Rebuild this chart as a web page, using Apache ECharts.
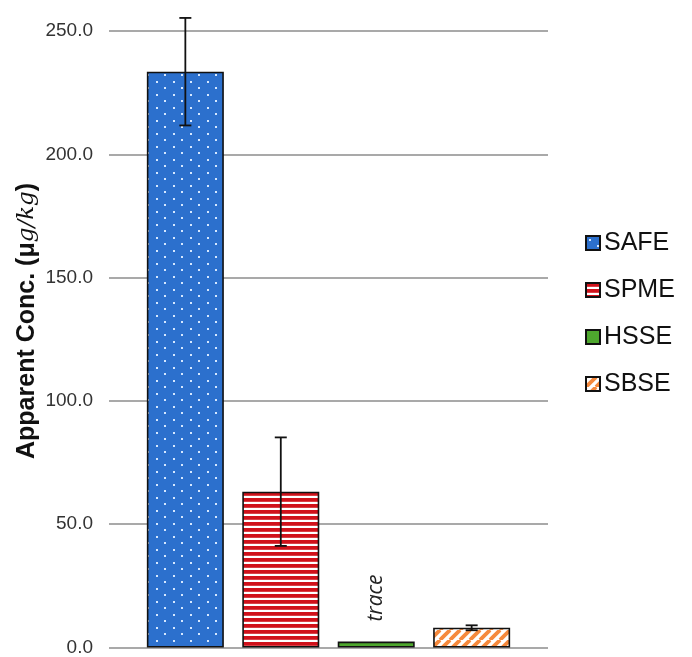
<!DOCTYPE html>
<html>
<head>
<meta charset="utf-8">
<script src="https://cdn.jsdelivr.net/npm/echarts@6/dist/echarts.min.js"></script>
<style>
  html, body { margin: 0; padding: 0; background: #fff; }
  #chart { width: 692px; height: 657px; }
</style>
</head>
<body>
<div id="chart"></div>
<script>
// Extraction methods and their apparent concentrations (µg/kg)
const methods = ['SAFE', 'SPME', 'HSSE', 'SBSE'];
const concValues = [233.5, 63.2, 2.4, 8.0];
const concErrors = [21.8, 22.0, 0, 1.0];
const yTicks = [0, 50, 100, 150, 200, 250];
const traceNote = 'trace';

// Tiled fills for each bar
function makeTile(w, h, draw) {
  const c = document.createElement('canvas');
  c.width = w; c.height = h;
  draw(c.getContext('2d'), w, h);
  return { image: c, repeat: 'repeat' };
}
const fills = [
  makeTile(17, 13, (g, w, h) => {
    g.fillStyle = '#2c70cd'; g.fillRect(0, 0, w, h);
    g.fillStyle = '#d6e8ff';
    g.fillRect(3, 3, 2, 2);
    g.fillRect(11, 9, 2, 2);
  }),
  makeTile(4, 6, (g, w, h) => {
    g.fillStyle = '#ffffff'; g.fillRect(0, 0, w, h);
    g.fillStyle = '#d0121b'; g.fillRect(0, 0, w, 3.8);
  }),
  '#4ea72e',
  makeTile(10, 10, (g, w, h) => {
    g.fillStyle = '#ffffff'; g.fillRect(0, 0, w, h);
    g.strokeStyle = '#f5893c'; g.lineWidth = 3.8;
    for (let k = -1; k <= 1; k++) {
      g.beginPath();
      g.moveTo(k * w, h);
      g.lineTo(k * w + w, 0);
      g.stroke();
    }
  })
];

const yMin = yTicks[0], yMax = yTicks[yTicks.length - 1];

const barSeries = methods.map((name, i) => ({
  name: name,
  type: 'bar',
  barWidth: 77,
  barGap: '-100%',
  itemStyle: { color: fills[i], borderColor: '#111', borderWidth: 1.6 },
  data: [{
    value: [i, concValues[i]],
    label: name === 'HSSE' ? {
      show: true,
      formatter: traceNote,
      position: 'top',
      rotate: 90,
      align: 'left',
      verticalAlign: 'middle',
      distance: 20,
      fontFamily: 'Open Sans',
      fontStyle: 'italic',
      fontSize: 21,
      color: '#222'
    } : { show: false }
  }],
  z: 2
}));

const errorSeries = {
  type: 'custom',
  name: 'error',
  clip: false,
  z: 5,
  data: methods.map((m, i) => [i, concValues[i] - concErrors[i], concValues[i] + concErrors[i], concErrors[i]])
    .filter(d => d[3] > 0),
  renderItem: function (params, api) {
    const x = api.value(0);
    const lo = api.coord([x, api.value(1)]);
    const hi = api.coord([x, api.value(2)]);
    const half = 6;
    const style = { stroke: '#111', lineWidth: 1.8 };
    return {
      type: 'group',
      children: [
        { type: 'line', shape: { x1: lo[0], y1: lo[1], x2: hi[0], y2: hi[1] }, style: style },
        { type: 'line', shape: { x1: lo[0] - half, y1: lo[1], x2: lo[0] + half, y2: lo[1] }, style: style },
        { type: 'line', shape: { x1: hi[0] - half, y1: hi[1], x2: hi[0] + half, y2: hi[1] }, style: style }
      ]
    };
  }
};

const chart = echarts.init(document.getElementById('chart'), null, { renderer: 'canvas' });
chart.setOption({
  animation: false,
  backgroundColor: '#ffffff',
  grid: { left: 109, right: 144, top: 31, bottom: 6, containLabel: false },
  xAxis: {
    type: 'value',
    min: -0.8,
    max: 3.8,
    show: false
  },
  yAxis: {
    type: 'value',
    min: yMin,
    max: yMax,
    interval: yTicks[1] - yTicks[0],
    axisLine: { show: false },
    axisTick: { show: false },
    axisLabel: {
      margin: 16,
      fontFamily: 'Liberation Sans',
      fontSize: 19,
      color: '#333333',
      formatter: v => v.toFixed(1)
    },
    splitLine: { lineStyle: { color: '#8c8c8c', width: 1.6 } }
  },
  legend: {
    orient: 'vertical',
    left: 585,
    top: 229,
    padding: 0,
    data: methods,
    itemWidth: 14,
    itemHeight: 14,
    itemGap: 19,
    icon: 'rect',
    textStyle: { fontFamily: 'Liberation Sans', fontSize: 25, color: '#111', padding: [0, 0, 0, -1], lineHeight: 28 },
    selectedMode: false
  },
  graphic: [{
    type: 'text',
    x: 15,
    y: 459,
    rotation: Math.PI / 2,
    style: {
      text: '{b|Apparent Conc. (μ}{m|g/kg}{b|)}',
      rich: {
        b: { fontFamily: 'Liberation Sans', fontWeight: 'bold', fontSize: 25, fill: '#111' },
        m: { fontFamily: 'DejaVu Serif', fontStyle: 'italic', fontSize: 23, fill: '#111' }
      },
      verticalAlign: 'top'
    }
  }],
  series: barSeries.concat([errorSeries])
});
</script>
</body>
</html>
